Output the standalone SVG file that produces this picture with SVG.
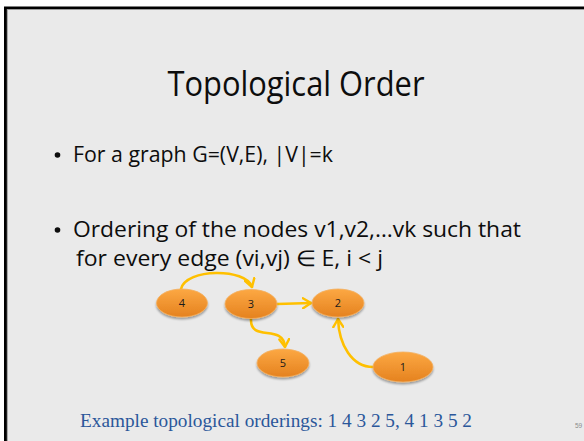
<svg xmlns="http://www.w3.org/2000/svg" width="584" height="441" viewBox="0 0 584 441">
  <style>
    .body { font-family: "Open Sans", "Liberation Sans", sans-serif; fill: #0d0d0d; }
    .node ellipse { fill: url(#og); stroke: #f4b060; stroke-width: 0.8; filter: url(#sh); }
    .node text { font-family: "Open Sans", "Liberation Sans", sans-serif; font-size: 11px; fill: #1a1a1a; text-anchor: middle; }
    .edge { fill: none; stroke: #FFC000; stroke-width: 2.6; stroke-linecap: round; }
  </style>
  <defs>
    <linearGradient id="og" x1="0" y1="0" x2="0" y2="1">
      <stop offset="0" stop-color="#FCA843"/>
      <stop offset="1" stop-color="#E5821F"/>
    </linearGradient>
    <filter id="sh" x="-30%" y="-30%" width="160%" height="170%">
      <feGaussianBlur in="SourceAlpha" stdDeviation="1.2"/>
      <feOffset dx="0" dy="2" result="b"/>
      <feComponentTransfer><feFuncA type="linear" slope="0.35"/></feComponentTransfer>
      <feMerge><feMergeNode/><feMergeNode in="SourceGraphic"/></feMerge>
    </filter>
    <marker id="ah" viewBox="0 0 10 12" refX="9" refY="6" markerWidth="10" markerHeight="12" markerUnits="userSpaceOnUse" orient="auto">
      <path d="M1,1 L9,6 L1,11" fill="none" stroke="#FFC000" stroke-width="2.4" stroke-linecap="round" stroke-linejoin="round"/>
    </marker>
  </defs>

  <rect x="0" y="0" width="584" height="441" fill="#ffffff"/>
  <rect x="4" y="6.5" width="580" height="434.5" fill="#000000"/>
  <rect x="6.8" y="9" width="577.2" height="432" fill="#9a9a9a"/>
  <rect x="7.8" y="10" width="576.2" height="431" fill="#EAEAEA"/>

  <text class="body" x="296" y="96" font-size="34" text-anchor="middle" textLength="257" lengthAdjust="spacingAndGlyphs">Topological Order</text>

  <circle cx="57.5" cy="155" r="2.8" fill="#0d0d0d"/>
  <text class="body" x="73" y="162" font-size="22" textLength="260" lengthAdjust="spacingAndGlyphs">For a graph G=(V,E), |V|=k</text>

  <circle cx="57.5" cy="230" r="2.8" fill="#0d0d0d"/>
  <text class="body" x="73" y="237" font-size="22" textLength="448" lengthAdjust="spacingAndGlyphs">Ordering of the nodes v1,v2,…vk such that</text>
  <text class="body" x="76" y="266" font-size="22" textLength="307" lengthAdjust="spacingAndGlyphs">for every edge (vi,vj) ∈ E, i &lt; j</text>

  <g id="connectors">
    <path class="edge" d="M181,289 C186,268 246,268 252,287" marker-end="url(#ah)"/>
    <path class="edge" d="M277,304 L311,303" marker-end="url(#ah)"/>
    <path class="edge" d="M251,319 C250,343 283,323 285,347" marker-end="url(#ah)"/>
    <path class="edge" d="M373,367 C352,367 339,345 338,319" marker-end="url(#ah)"/>
  </g>

  <g id="node4" class="node">
    <ellipse cx="182" cy="303" rx="25.5" ry="14"/>
    <text x="182" y="307">4</text>
  </g>
  <g id="node3" class="node">
    <ellipse cx="251" cy="304" rx="26" ry="14.5"/>
    <text x="251" y="308">3</text>
  </g>
  <g id="node2" class="node">
    <ellipse cx="338" cy="303" rx="26" ry="14"/>
    <text x="338" y="307">2</text>
  </g>
  <g id="node5" class="node">
    <ellipse cx="283" cy="363" rx="26" ry="14"/>
    <text x="283" y="367">5</text>
  </g>
  <g id="node1" class="node">
    <ellipse cx="403" cy="367" rx="30" ry="15"/>
    <text x="403" y="371">1</text>
  </g>

  <text x="80" y="427" font-family="'Liberation Serif', 'Times New Roman', serif" font-size="18" fill="#2B579A" textLength="392" lengthAdjust="spacingAndGlyphs">Example topological orderings: 1 4 3 2 5, 4 1 3 5 2</text>
  <text x="575" y="428" font-family="'Liberation Sans', sans-serif" font-size="6.5" fill="#8a8a8a">59</text>
</svg>
